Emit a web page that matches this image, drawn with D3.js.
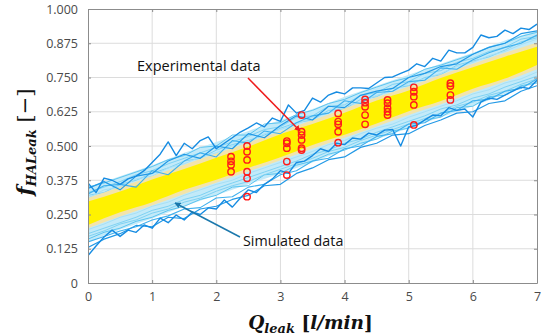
<!DOCTYPE html>
<html>
<head>
<meta charset="utf-8">
<script src="https://cdn.jsdelivr.net/npm/d3@7"></script>
<style>
  body { margin: 0; background: #fff; }
  svg { display: block; }
</style>
</head>
<body>
<div id="chart"></div>
<script>
/* global d3 */

// ---- data ----

var xTicks = [ 0, 1, 2, 3, 4, 5, 6, 7 ];
var yTicks = [ 0, 0.125, 0.25, 0.375, 0.5, 0.625, 0.75, 0.875, 1 ];

// sample positions (Q_leak, l/min)
var qFine = [ 0, 0.125, 0.25, 0.375, 0.5, 0.625, 0.75, 0.875, 1, 1.125, 1.25, 1.375, 1.5, 1.625, 1.75, 1.875,
  2, 2.125, 2.25, 2.375, 2.5, 2.625, 2.75, 2.875, 3, 3.125, 3.25, 3.375, 3.5, 3.625, 3.75, 3.875,
  4, 4.125, 4.25, 4.375, 4.5, 4.625, 4.75, 4.875, 5, 5.125, 5.25, 5.375, 5.5, 5.625, 5.75, 5.875,
  6, 6.125, 6.25, 6.375, 6.5, 6.625, 6.75, 6.875, 7 ];
var qMid = [ 0, 0.25, 0.5, 0.75, 1, 1.25, 1.5, 1.75, 2, 2.25, 2.5, 2.75, 3, 3.25, 3.5, 3.75,
  4, 4.25, 4.5, 4.75, 5, 5.25, 5.5, 5.75, 6, 6.25, 6.5, 6.75, 7 ];
var qCoarse = [ 0, 0.5, 1, 1.5, 2, 2.5, 3, 3.5, 4, 4.5, 5, 5.5, 6, 6.5, 7 ];

// band edges of the simulated cloud
var yellowHi = [ 0.297, 0.334, 0.378, 0.416, 0.457, 0.498, 0.543, 0.580, 0.621, 0.666, 0.703, 0.748, 0.787, 0.826, 0.862 ];
var yellowLo = [ 0.212, 0.258, 0.295, 0.340, 0.377, 0.420, 0.459, 0.504, 0.541, 0.582, 0.627, 0.664, 0.709, 0.746, 0.796 ];
var beigeHi = [ 0.310, 0.350, 0.390, 0.432, 0.473, 0.513, 0.554, 0.594, 0.637, 0.678, 0.717, 0.760, 0.800, 0.840, 0.878 ];
var beigeLo = [ 0.200, 0.243, 0.283, 0.325, 0.366, 0.407, 0.448, 0.490, 0.530, 0.571, 0.613, 0.652, 0.695, 0.735, 0.780 ];
var lightHi = [ 0.350, 0.390, 0.430, 0.475, 0.515, 0.555, 0.595, 0.635, 0.680, 0.720, 0.760, 0.800, 0.840, 0.885, 0.920 ];
var lightLo = [ 0.150, 0.195, 0.235, 0.280, 0.320, 0.360, 0.400, 0.440, 0.485, 0.525, 0.565, 0.605, 0.645, 0.690, 0.730 ];

// outermost dark blue runs (fine sampling)
var runUp1 = [ 0.365, 0.330, 0.383, 0.375, 0.360, 0.380, 0.390, 0.410, 0.440, 0.470, 0.515, 0.465, 0.510, 0.490, 0.520, 0.533,
  0.490, 0.510, 0.530, 0.551, 0.566, 0.584, 0.570, 0.602, 0.590, 0.650, 0.620, 0.630, 0.675, 0.660, 0.686, 0.697,
  0.690, 0.712, 0.712, 0.710, 0.730, 0.750, 0.752, 0.765, 0.777, 0.800, 0.790, 0.820, 0.810, 0.850, 0.840, 0.840,
  0.860, 0.905, 0.895, 0.900, 0.923, 0.910, 0.930, 0.925, 0.945 ];
var runLo1 = [ 0.100, 0.135, 0.168, 0.193, 0.170, 0.193, 0.185, 0.212, 0.200, 0.237, 0.220, 0.248, 0.230, 0.259, 0.250, 0.274,
  0.270, 0.303, 0.277, 0.310, 0.340, 0.330, 0.360, 0.380, 0.410, 0.400, 0.440, 0.445, 0.465, 0.490, 0.480, 0.510,
  0.505, 0.529, 0.525, 0.547, 0.540, 0.558, 0.560, 0.500, 0.570, 0.575, 0.595, 0.613, 0.610, 0.640, 0.630, 0.635,
  0.606, 0.660, 0.675, 0.670, 0.686, 0.700, 0.715, 0.710, 0.740 ];

// other dark blue runs
var runUp2 = [ 0.345, 0.370, 0.340, 0.390, 0.400, 0.445, 0.470, 0.455, 0.500, 0.490, 0.545, 0.530, 0.575, 0.610, 0.595, 0.645,
  0.640, 0.685, 0.700, 0.710, 0.750, 0.765, 0.790, 0.800, 0.835, 0.860, 0.875, 0.910, 0.920 ];
var runUp3 = [ 0.325, 0.355, 0.360, 0.350, 0.410, 0.395, 0.445, 0.475, 0.460, 0.520, 0.510, 0.555, 0.545, 0.585, 0.610, 0.620,
  0.665, 0.655, 0.695, 0.700, 0.735, 0.740, 0.785, 0.780, 0.815, 0.840, 0.860, 0.875, 0.905 ];
var runLo2 = [ 0.130, 0.160, 0.180, 0.210, 0.205, 0.240, 0.235, 0.270, 0.280, 0.305, 0.320, 0.355, 0.360, 0.400, 0.420, 0.450,
  0.460, 0.495, 0.510, 0.540, 0.545, 0.575, 0.595, 0.620, 0.625, 0.655, 0.665, 0.700, 0.720 ];
var runLo3 = [ 0.150, 0.170, 0.190, 0.205, 0.230, 0.245, 0.270, 0.275, 0.310, 0.315, 0.350, 0.360, 0.395, 0.410, 0.445, 0.455,
  0.490, 0.500, 0.535, 0.545, 0.580, 0.585, 0.620, 0.630, 0.665, 0.670, 0.700, 0.710, 0.745 ];

// light blue runs inside the cloud
var runLightUp1 = [ 0.330, 0.350, 0.370, 0.395, 0.410, 0.435, 0.455, 0.475, 0.495, 0.515, 0.535, 0.560, 0.570, 0.605, 0.610, 0.645,
  0.650, 0.685, 0.695, 0.725, 0.735, 0.765, 0.775, 0.805, 0.820, 0.845, 0.860, 0.890, 0.900 ];
var runLightUp2 = [ 0.310, 0.340, 0.350, 0.380, 0.390, 0.420, 0.435, 0.460, 0.475, 0.500, 0.515, 0.545, 0.560, 0.580, 0.605, 0.620,
  0.645, 0.660, 0.685, 0.700, 0.730, 0.745, 0.765, 0.790, 0.805, 0.830, 0.845, 0.870, 0.890 ];
var runLightUp3 = [ 0.350, 0.365, 0.385, 0.405, 0.425, 0.450, 0.465, 0.495, 0.500, 0.540, 0.540, 0.580, 0.585, 0.615, 0.630, 0.655,
  0.670, 0.695, 0.715, 0.735, 0.750, 0.780, 0.795, 0.815, 0.835, 0.860, 0.875, 0.900, 0.915 ];
var runLightUp4 = [ 0.320, 0.330, 0.360, 0.375, 0.400, 0.420, 0.445, 0.455, 0.485, 0.505, 0.520, 0.540, 0.565, 0.585, 0.595, 0.630,
  0.635, 0.670, 0.680, 0.710, 0.720, 0.750, 0.760, 0.795, 0.810, 0.825, 0.850, 0.880, 0.895 ];
var runLightLo1 = [ 0.180, 0.200, 0.220, 0.240, 0.265, 0.280, 0.305, 0.320, 0.345, 0.365, 0.385, 0.405, 0.425, 0.445, 0.470, 0.485,
  0.510, 0.525, 0.550, 0.570, 0.590, 0.610, 0.635, 0.650, 0.675, 0.690, 0.715, 0.735, 0.755 ];
var runLightLo2 = [ 0.195, 0.215, 0.240, 0.255, 0.280, 0.295, 0.320, 0.340, 0.360, 0.375, 0.400, 0.420, 0.440, 0.460, 0.480, 0.505,
  0.520, 0.545, 0.565, 0.580, 0.605, 0.625, 0.645, 0.665, 0.690, 0.705, 0.730, 0.745, 0.770 ];
var runLightLo3 = [ 0.160, 0.185, 0.200, 0.225, 0.240, 0.265, 0.280, 0.305, 0.320, 0.350, 0.355, 0.395, 0.400, 0.430, 0.445, 0.470,
  0.485, 0.510, 0.525, 0.555, 0.565, 0.595, 0.605, 0.640, 0.645, 0.680, 0.685, 0.720, 0.730 ];
var runLightLo4 = [ 0.170, 0.190, 0.215, 0.230, 0.255, 0.270, 0.295, 0.310, 0.335, 0.355, 0.370, 0.395, 0.415, 0.435, 0.455, 0.480,
  0.495, 0.520, 0.540, 0.560, 0.580, 0.600, 0.620, 0.645, 0.660, 0.685, 0.700, 0.725, 0.745 ];

// experimental points: one flow rate per column
var expQ = [ 2.23, 2.48, 3.10, 3.33, 3.90, 4.32, 4.67, 5.08, 5.65 ];
var expF = [
  [ 0.461, 0.444, 0.431, 0.406 ],
  [ 0.500, 0.479, 0.449, 0.406, 0.382, 0.315 ],
  [ 0.518, 0.510, 0.492, 0.443, 0.394 ],
  [ 0.613, 0.552, 0.540, 0.522, 0.492, 0.485 ],
  [ 0.619, 0.589, 0.579, 0.552, 0.512 ],
  [ 0.670, 0.658, 0.643, 0.613, 0.579 ],
  [ 0.668, 0.656, 0.638, 0.625, 0.613 ],
  [ 0.714, 0.698, 0.680, 0.650, 0.577 ],
  [ 0.729, 0.719, 0.686, 0.668 ]
];

// ---- drawing ----

function drawChart() {

  var width = 550,
    height = 336,
    left = 88, right = 537, top = 9, bottom = 283;

  var svg = d3.select( "#chart" ).append( "svg" )
    .attr( "width", width )
    .attr( "height", height );

  var x = d3.scaleLinear().domain( [ 0, 7 ] ).range( [ left, right ] );
  var y = d3.scaleLinear().domain( [ 0, 1 ] ).range( [ bottom, top ] );

  var defs = svg.append( "defs" );
  defs.append( "clipPath" ).attr( "id", "plot" )
    .append( "rect" )
      .attr( "x", left ).attr( "y", top )
      .attr( "width", right - left ).attr( "height", bottom - top );

  // grid
  svg.append( "g" ).selectAll( "line" ).data( xTicks.slice( 1, -1 ) ).enter().append( "line" )
    .attr( "x1", d => x( d ) ).attr( "x2", d => x( d ) )
    .attr( "y1", top ).attr( "y2", bottom )
    .attr( "stroke", "#dcdcdc" );
  svg.append( "g" ).selectAll( "line" ).data( yTicks.slice( 1, -1 ) ).enter().append( "line" )
    .attr( "y1", d => y( d ) ).attr( "y2", d => y( d ) )
    .attr( "x1", left ).attr( "x2", right )
    .attr( "stroke", "#dcdcdc" );

  var plot = svg.append( "g" ).attr( "clip-path", "url(#plot)" );

  function band( xs, lo, hi ) {
    return d3.area()
      .x( ( d, i ) => x( xs[ i ] ) )
      .y0( ( d, i ) => y( lo[ i ] ) )
      .y1( ( d, i ) => y( hi[ i ] ) )
      .curve( d3.curveMonotoneX )( lo );
  }

  function run( xs, vals ) {
    return d3.line()
      .x( ( d, i ) => x( xs[ i ] ) )
      .y( d => y( d ) )( vals );
  }

  function stroke( xs, list, colour, w ) {
    list.forEach( function( r ) {
      plot.append( "path" ).attr( "d", run( xs, r ) )
        .attr( "fill", "none" ).attr( "stroke", colour ).attr( "stroke-width", w )
        .attr( "stroke-linejoin", "round" );
    } );
  }

  plot.append( "path" ).attr( "d", band( qCoarse, lightLo, lightHi ) ).attr( "fill", "#c2eaf9" );

  stroke( qMid, [ runLightUp3, runLightLo3 ], "#5cc4f0", 1 );
  stroke( qMid, [ runLightUp1, runLightLo1, runLightUp4, runLightLo4 ], "#7fd2f3", 1 );
  stroke( qMid, [ runLightUp2, runLightLo2 ], "#a6e0f6", 1 );

  plot.append( "path" ).attr( "d", band( qCoarse, beigeLo, beigeHi ) ).attr( "fill", "#f3e4aa" );
  plot.append( "path" ).attr( "d", band( qCoarse, yellowLo, yellowHi ) ).attr( "fill", "#fff200" );

  stroke( qMid, [ runUp3, runLo3 ], "#3fb0ee", 1.1 );
  stroke( qMid, [ runUp2, runLo2 ], "#2299e6", 1.2 );
  stroke( qFine, [ runUp1, runLo1 ], "#168ce2", 1.4 );

  // experimental circles
  var pts = [];
  expQ.forEach( function( q, i ) {
    expF[ i ].forEach( function( f ) { pts.push( [ q, f ] ); } );
  } );
  svg.append( "g" ).selectAll( "circle" ).data( pts ).enter().append( "circle" )
    .attr( "cx", d => x( d[ 0 ] ) )
    .attr( "cy", d => y( d[ 1 ] ) )
    .attr( "r", 3.2 )
    .attr( "fill", "none" )
    .attr( "stroke", "#ff1a1a" )
    .attr( "stroke-width", 1.4 );

  // axes
  var tickFmt = d => d === 0 ? "0" : d3.format( ".3f" )( d );

  var yAxis = svg.append( "g" ).attr( "transform", "translate(" + left + ",0)" )
    .call( d3.axisLeft( y ).tickValues( yTicks ).tickFormat( tickFmt ).tickSize( -3 ).tickSizeOuter( 0 ).tickPadding( 10 ) );
  var xAxis = svg.append( "g" ).attr( "transform", "translate(0," + bottom + ")" )
    .call( d3.axisBottom( x ).tickValues( xTicks ).tickFormat( d3.format( "d" ) ).tickSize( -3 ).tickSizeOuter( 0 ).tickPadding( 9 ) );
  var yAxisR = svg.append( "g" ).attr( "transform", "translate(" + right + ",0)" )
    .call( d3.axisRight( y ).tickValues( yTicks ).tickFormat( "" ).tickSize( -3 ).tickSizeOuter( 0 ) );
  var xAxisT = svg.append( "g" ).attr( "transform", "translate(0," + top + ")" )
    .call( d3.axisTop( x ).tickValues( xTicks ).tickFormat( "" ).tickSize( -3 ).tickSizeOuter( 0 ) );

  [ yAxis, xAxis, yAxisR, xAxisT ].forEach( function( a ) {
    a.select( ".domain" ).attr( "stroke", "#8c8c8c" );
    a.selectAll( ".tick line" ).attr( "stroke", "#8c8c8c" );
    a.selectAll( "text" )
      .attr( "fill", "#4a4a4a" )
      .style( "font-family", "'Open Sans', 'Liberation Sans', sans-serif" )
      .style( "font-size", "12.5px" );
  } );

  // axis titles
  var serif = "'DejaVu Serif', 'Liberation Serif', serif";

  var xt = svg.append( "text" )
    .attr( "x", ( left + right ) / 2 - 2 ).attr( "y", 329 )
    .attr( "text-anchor", "middle" )
    .style( "font-family", serif ).style( "font-weight", "bold" ).style( "font-style", "italic" )
    .style( "font-size", "18.5px" ).attr( "fill", "#111" );
  xt.append( "tspan" ).text( "Q" );
  xt.append( "tspan" ).attr( "dy", 4 ).style( "font-size", "13px" ).text( "leak" );
  xt.append( "tspan" ).attr( "dy", -4 ).text( " [" ).style( "font-style", "normal" );
  xt.append( "tspan" ).text( "l/min" );
  xt.append( "tspan" ).text( "]" ).style( "font-style", "normal" );

  var yt = svg.append( "text" )
    .attr( "transform", "translate(32," + ( ( top + bottom ) / 2 - 4 ) + ") rotate(-90)" )
    .attr( "text-anchor", "middle" )
    .style( "font-family", serif ).style( "font-weight", "bold" ).style( "font-style", "italic" )
    .style( "font-size", "21px" ).attr( "fill", "#111" );
  yt.append( "tspan" ).text( "f" );
  yt.append( "tspan" ).attr( "dy", 4 ).style( "font-size", "13px" ).text( "HALeak" );
  yt.append( "tspan" ).attr( "dy", -4 ).style( "font-style", "normal" ).style( "font-weight", "normal" ).text( " [\u2212]" );

  // annotations
  [ [ "arrRed", "#ee1c1c" ], [ "arrBlue", "#1b78ac" ] ].forEach( function( m ) {
    defs.append( "marker" ).attr( "id", m[ 0 ] )
      .attr( "viewBox", "0 0 10 10" ).attr( "refX", 9 ).attr( "refY", 5 )
      .attr( "markerWidth", 4 ).attr( "markerHeight", 4 ).attr( "orient", "auto" )
      .append( "path" ).attr( "d", "M0,0 L10,5 L0,10 z" ).attr( "fill", m[ 1 ] );
  } );

  var sans = "'Open Sans', 'Liberation Sans', sans-serif";

  svg.append( "text" ).attr( "x", 137 ).attr( "y", 71 )
    .style( "font-family", sans ).style( "font-size", "14.5px" ).attr( "fill", "#111" )
    .text( "Experimental data" );
  svg.append( "line" )
    .attr( "x1", 248 ).attr( "y1", 78 ).attr( "x2", 300 ).attr( "y2", 131 )
    .attr( "stroke", "#ee1c1c" ).attr( "stroke-width", 1.5 )
    .attr( "marker-end", "url(#arrRed)" );

  svg.append( "text" ).attr( "x", 243 ).attr( "y", 246 )
    .style( "font-family", sans ).style( "font-size", "14.3px" ).attr( "fill", "#111" )
    .text( "Simulated data" );
  svg.append( "line" )
    .attr( "x1", 240 ).attr( "y1", 237 ).attr( "x2", 175 ).attr( "y2", 203 )
    .attr( "stroke", "#1b78ac" ).attr( "stroke-width", 1.5 )
    .attr( "marker-end", "url(#arrBlue)" );
}

drawChart();
</script>
</body>
</html>
